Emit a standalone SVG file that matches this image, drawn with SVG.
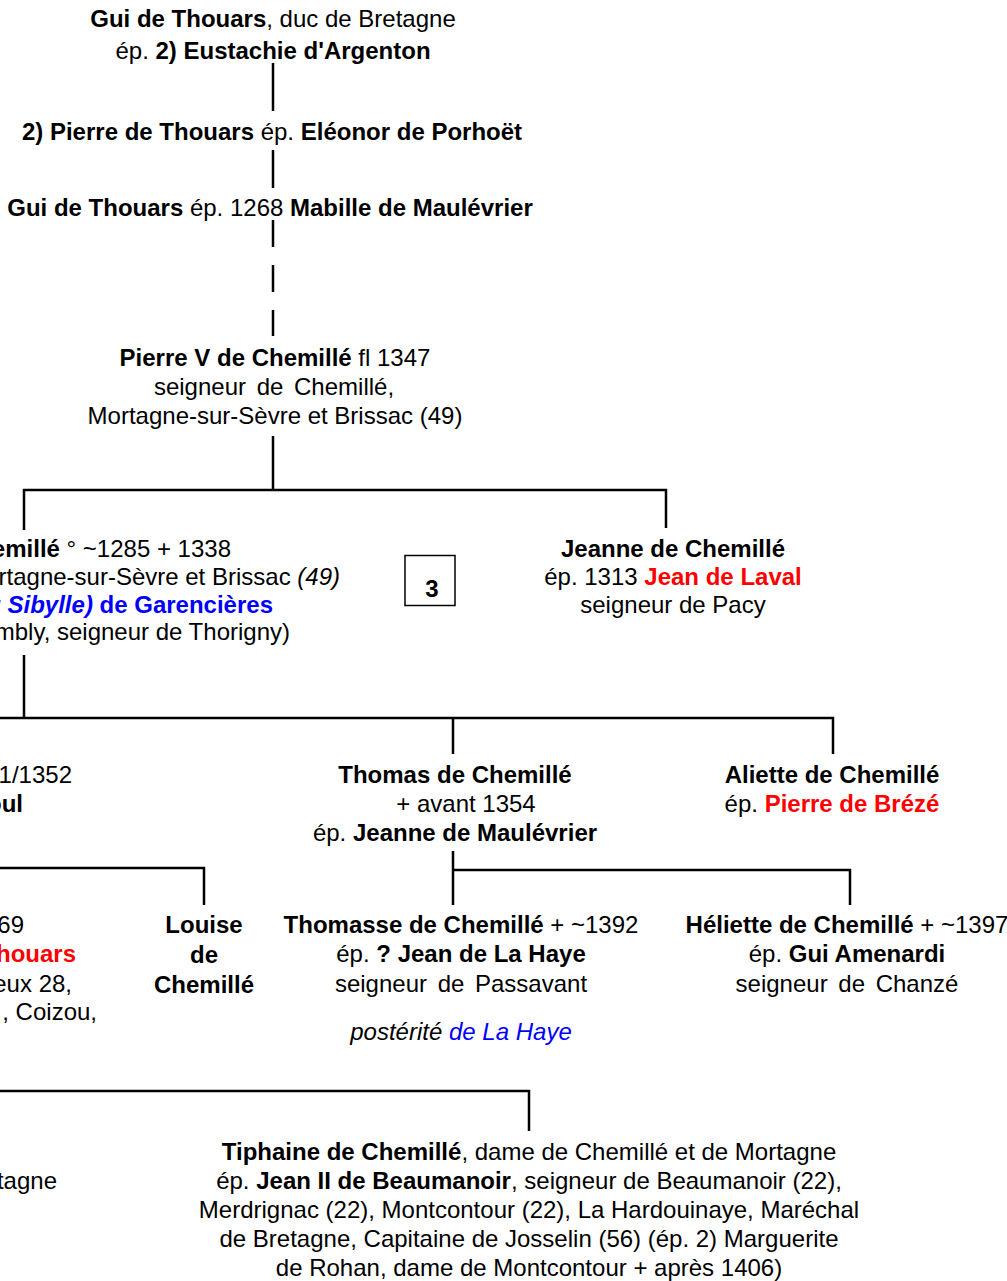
<svg xmlns="http://www.w3.org/2000/svg" width="1007" height="1281" viewBox="0 0 1007 1281">
<style>
text{font-family:"Liberation Sans",Arial,sans-serif;font-size:24px;fill:#000}
.c{text-anchor:middle}
.e{text-anchor:end}
.b{font-weight:bold}
.i{font-style:italic}
.r{fill:#ff0000}
.u{fill:#0000ff}
.ln{stroke:#000;stroke-width:2.5;fill:none}
</style>
<rect width="1007" height="1281" fill="#fff"/>
<g id="connectors">
<path class="ln" d="M273 63V111M273 150V188"/>
<path class="ln" d="M273 220V336" stroke-dasharray="27 18"/>
<path class="ln" d="M273 436V490M24 530V490H666V528"/>
<path class="ln" d="M24 655V718M0 718H833V754M453 718V754"/>
<path class="ln" d="M0 868H204V905"/>
<path class="ln" d="M453 851V905M453 870H850V905"/>
<path class="ln" d="M0 1091H529V1131"/>
</g>
<g id="n-gui1">
<text class="c" x="273" y="27"><tspan class="b">Gui de Thouars</tspan>, duc de Bretagne</text>
<text class="c" x="273" y="59">ép. <tspan class="b">2) Eustachie d'Argenton</tspan></text>
</g>
<g id="n-pierre2">
<text class="c" x="272" y="140"><tspan class="b">2) Pierre de Thouars</tspan> ép. <tspan class="b">Eléonor de Porhoët</tspan></text>
</g>
<g id="n-gui2">
<text class="c" x="270" y="216"><tspan class="b">Gui de Thouars</tspan> ép. 1268 <tspan class="b">Mabille de Maulévrier</tspan></text>
</g>
<g id="n-pierre5">
<text class="c" x="275" y="366"><tspan class="b">Pierre V de Chemillé</tspan> fl 1347</text>
<text class="c" x="274" y="395" word-spacing="4">seigneur de Chemillé,</text>
<text class="c" x="275" y="424">Mortagne-sur-Sèvre et Brissac (49)</text>
</g>
<g id="n-left1">
<text class="e" x="231" y="557"><tspan class="b">emillé</tspan> ° ~1285 + 1338</text>
<text class="e" x="340" y="585">rtagne-sur-Sèvre et Brissac <tspan class="i">(49)</tspan></text>
<text class="e" x="273" y="613"><tspan class="u b i">ou Sibylle)</tspan><tspan class="u b"> de Garencières</tspan></text>
<text class="e" x="290" y="640">mbly, seigneur de Thorigny)</text>
</g>
<g id="n-box3">
<rect x="405" y="555.5" width="50" height="50" fill="none" stroke="#000" stroke-width="1.5"/>
<text class="c b" x="432" y="597">3</text>
</g>
<g id="n-jeanne">
<text class="c b" x="673" y="557">Jeanne de Chemillé</text>
<text class="c" x="673" y="585">ép. 1313 <tspan class="b r">Jean de Laval</tspan></text>
<text class="c" x="673" y="613">seigneur de Pacy</text>
</g>
<g id="n-left2">
<text class="e" x="72" y="783">1/1352</text>
<text class="e b" x="23" y="812">oul</text>
</g>
<g id="n-thomas">
<text class="c b" x="455" y="783">Thomas de Chemillé</text>
<text class="c" x="466" y="812">+ avant 1354</text>
<text class="c" x="455" y="841">ép. <tspan class="b">Jeanne de Maulévrier</tspan></text>
</g>
<g id="n-aliette">
<text class="c b" x="832" y="783">Aliette de Chemillé</text>
<text class="c" x="832" y="812">ép. <tspan class="b r">Pierre de Brézé</tspan></text>
</g>
<g id="n-left3">
<text class="e" x="24" y="933">69</text>
<text class="e b r" x="76" y="962">houars</text>
<text class="e" x="72" y="992">eux 28,</text>
<text class="e" x="97" y="1020">, Coizou,</text>
</g>
<g id="n-louise">
<text class="c b" x="204" y="933">Louise</text>
<text class="c b" x="204" y="963">de</text>
<text class="c b" x="204" y="993">Chemillé</text>
</g>
<g id="n-thomasse">
<text class="c" x="461" y="933"><tspan class="b">Thomasse de Chemillé</tspan> + ~1392</text>
<text class="c" x="461" y="962">ép. <tspan class="b">? Jean de La Haye</tspan></text>
<text class="c" x="461" y="992" word-spacing="4">seigneur de Passavant</text>
<text class="c i" x="461" y="1040">postérité <tspan class="u">de La Haye</tspan></text>
</g>
<g id="n-heliette">
<text class="c" x="847" y="933"><tspan class="b">Héliette de Chemillé</tspan> + ~1397</text>
<text class="c" x="847" y="962">ép. <tspan class="b">Gui Amenardi</tspan></text>
<text class="c" x="847" y="992" word-spacing="4">seigneur de Chanzé</text>
</g>
<g id="n-left4">
<text class="e" x="57" y="1189">tagne</text>
</g>
<g id="n-tiphaine">
<text class="c" x="529" y="1160"><tspan class="b">Tiphaine de Chemillé</tspan>, dame de Chemillé et de Mortagne</text>
<text class="c" x="529" y="1189">ép. <tspan class="b">Jean II de Beaumanoir</tspan>, seigneur de Beaumanoir (22),</text>
<text class="c" x="529" y="1218">Merdrignac (22), Montcontour (22), La Hardouinaye, Maréchal</text>
<text class="c" x="529" y="1247">de Bretagne, Capitaine de Josselin (56) (ép. 2) Marguerite</text>
<text class="c" x="529" y="1276">de Rohan, dame de Montcontour + après 1406)</text>
</g>
</svg>
